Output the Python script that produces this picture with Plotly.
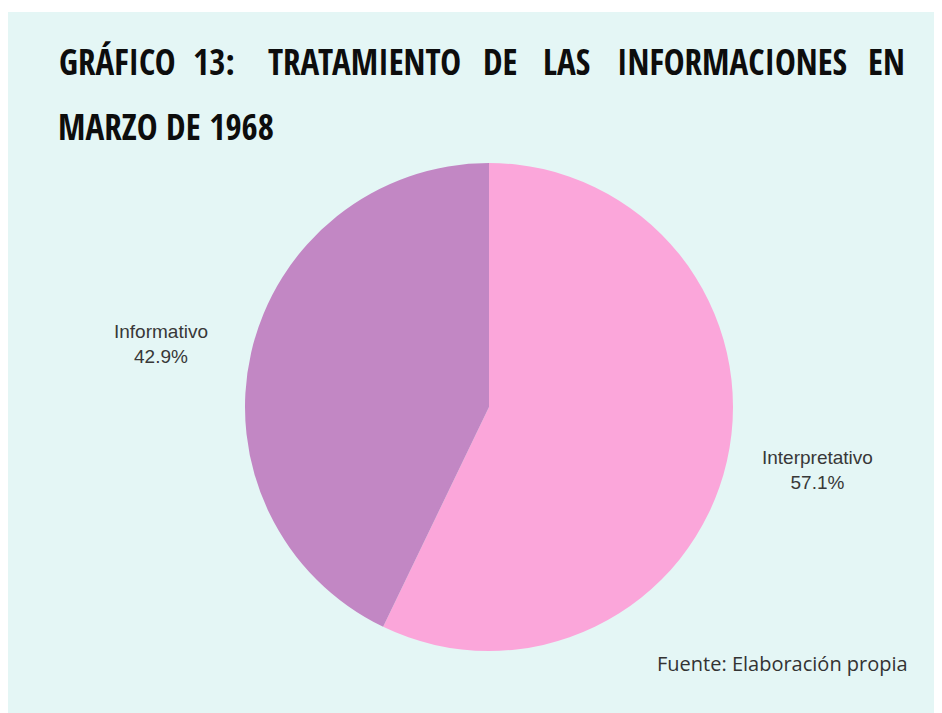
import math
import plotly.graph_objects as go

# datos
labels = ["Interpretativo", "Informativo"]
values = [4, 3]
colors = ["#fba6da", "#c287c4"]

title_line1 = "GRÁFICO 13: TRATAMIENTO DE LAS INFORMACIONES EN"
title_line2 = "MARZO DE 1968"
source = "Fuente: Elaboración propia"

# la página añade 8 px de margen; la figura ocupa el resto
W, H = 934, 705
OFF = 8
bg = "#e4f6f5"


def px(x):
    return (x - OFF) / W


def py(y):
    return 1 - (y - OFF) / H


# posición de la tarta (px de la página)
cx, cy, R = 489, 407, 244

fig = go.Figure(
    go.Pie(
        labels=labels,
        values=values,
        sort=False,
        direction="clockwise",
        rotation=0,
        textinfo="none",
        hoverinfo="label+percent",
        marker=dict(colors=colors, line=dict(width=0)),
        domain=dict(x=[px(cx - R), px(cx + R)], y=[py(cy + R), py(cy - R)]),
        showlegend=False,
    )
)

# etiquetas fuera de la tarta, cerca del ángulo medio de cada porción
total = sum(values)
start = 0.0
for lab, v in zip(labels, values):
    frac = v / total
    mid = (start + frac / 2) * 2 * math.pi - math.radians(2)
    start += frac
    r = 1.37 * R
    x = cx + r * math.sin(mid)
    y = cy - r * math.cos(mid)
    fig.add_annotation(
        x=px(x), y=py(y), xref="paper", yref="paper", xanchor="center", yanchor="middle",
        text=f"{lab}<br>{frac * 100:.1f}%",
        showarrow=False, align="center",
        font=dict(family="Liberation Sans, Arial", size=19, color="#383838"),
    )

# título justificado: una anotación por palabra
title_font = dict(family="Open Sans Condensed, Roboto Condensed", size=35, color="#0d0d0d")
words = title_line1.split()
word_x = [57, 214, 364, 500, 566, 732, 907]
for i, (w, wx) in enumerate(zip(words, word_x)):
    anchor = "left" if i == 0 else ("right" if i == len(words) - 1 else "center")
    fig.add_annotation(x=px(wx), y=py(61), xref="paper", yref="paper", xanchor=anchor, yanchor="middle",
                       text=f"<b>{w}</b>", showarrow=False, font=title_font)
fig.add_annotation(x=px(56), y=py(126), xref="paper", yref="paper", xanchor="left", yanchor="middle",
                   text=f"<b>{title_line2}</b>", showarrow=False, font=title_font)

fig.add_annotation(x=px(910), y=py(663), xref="paper", yref="paper", xanchor="right", yanchor="middle",
                   text=source, showarrow=False,
                   font=dict(family="Open Sans", size=20, color="#333333"))

# franja blanca superior
fig.add_shape(type="rect", xref="paper", yref="paper", x0=0, x1=1, y0=1 - 4 / H, y1=1,
              fillcolor="white", line=dict(width=0), layer="below")

fig.update_layout(
    width=W, height=H,
    margin=dict(l=0, r=0, t=0, b=0),
    paper_bgcolor=bg,
    plot_bgcolor=bg,
)

fig.write_html("out.html")
